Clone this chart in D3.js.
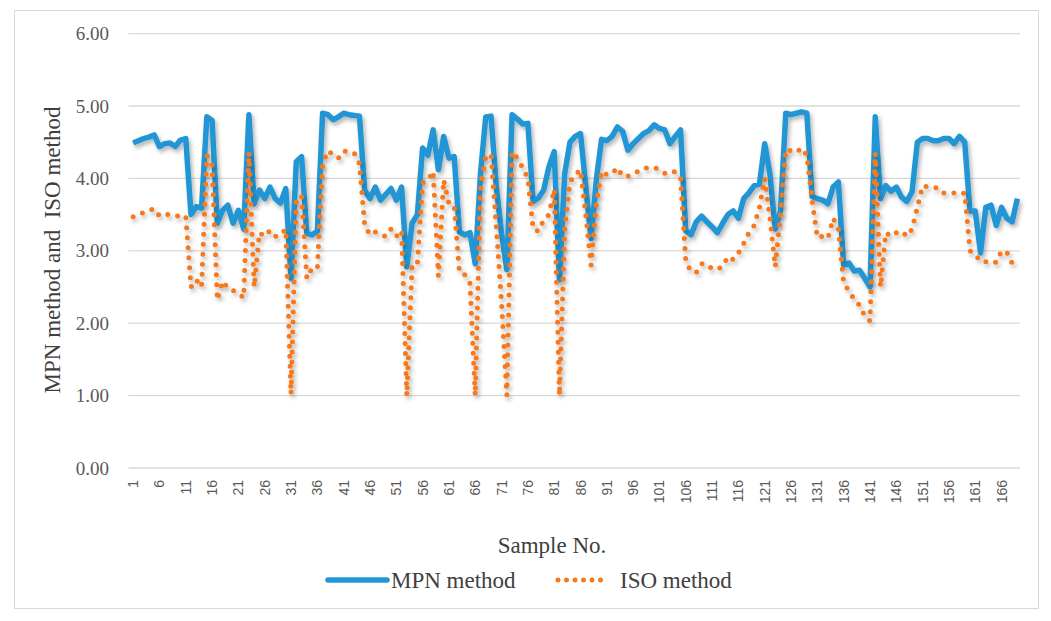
<!DOCTYPE html>
<html><head><meta charset="utf-8">
<script src="https://cdn.jsdelivr.net/npm/d3@7"></script>
<style>body{margin:0;background:#fff} svg{display:block}</style>
</head><body>
<svg id="c" width="1051" height="621"></svg>
<script>
const mpn = [4.49,4.52,4.55,4.57,4.60,4.44,4.48,4.49,4.44,4.53,
4.55,3.50,3.61,3.59,4.85,4.80,3.38,3.56,3.63,3.38,
3.56,3.30,4.88,3.65,3.84,3.72,3.88,3.72,3.66,3.86,
2.62,4.23,4.30,3.24,3.22,3.27,4.90,4.88,4.81,4.85,
4.90,4.88,4.87,4.86,3.84,3.72,3.88,3.70,3.78,3.86,
3.70,3.88,2.78,3.38,3.50,4.42,4.32,4.67,4.12,4.58,
4.28,4.30,3.26,3.22,3.25,2.82,4.07,4.85,4.86,3.89,
3.24,2.74,4.88,4.82,4.75,4.76,3.68,3.73,3.84,4.16,
4.37,2.60,4.07,4.50,4.58,4.62,3.89,3.17,3.98,4.54,
4.52,4.58,4.71,4.65,4.39,4.48,4.55,4.62,4.66,4.74,
4.69,4.67,4.48,4.58,4.67,3.28,3.22,3.40,3.48,3.40,
3.33,3.25,3.38,3.50,3.55,3.45,3.72,3.80,3.90,3.92,
4.48,4.05,3.30,3.55,4.90,4.88,4.90,4.92,4.90,3.75,
3.72,3.70,3.65,3.88,3.95,2.80,2.83,2.72,2.73,2.62,
2.50,4.85,3.72,3.90,3.82,3.88,3.74,3.68,3.82,4.50,
4.55,4.55,4.52,4.52,4.55,4.55,4.48,4.58,4.50,3.55,
3.55,2.97,3.60,3.63,3.35,3.60,3.45,3.40,3.72];
const iso = [3.47,3.50,3.53,3.56,3.58,3.48,3.50,3.50,3.48,3.48,
3.48,2.50,2.60,2.50,4.32,4.18,2.32,2.58,2.48,2.45,
2.42,2.35,4.36,2.50,3.25,3.20,3.28,3.20,3.22,3.30,
1.02,3.70,3.76,2.62,2.76,2.76,4.20,4.38,4.33,4.28,
4.38,4.36,4.35,4.20,3.35,3.22,3.26,3.22,3.20,3.30,
3.20,3.28,1.00,2.80,2.82,3.94,3.97,4.10,2.65,3.98,
3.65,3.62,2.70,2.67,2.55,1.00,3.90,4.30,4.33,3.33,
2.28,1.00,4.37,4.28,4.15,4.00,3.30,3.27,3.42,3.50,
3.85,1.00,3.30,3.95,4.05,4.12,3.50,2.80,3.65,4.10,
4.05,4.07,4.15,4.03,4.03,4.07,4.10,4.14,4.15,4.15,
4.12,4.07,4.10,4.09,4.02,2.85,2.72,2.70,2.82,2.82,
2.75,2.75,2.78,2.92,2.88,2.97,3.10,3.25,3.35,3.60,
4.00,3.45,2.78,3.50,4.40,4.38,4.36,4.42,4.32,3.70,
3.18,3.20,3.17,3.45,3.30,2.55,2.45,2.33,2.25,2.10,
2.03,4.35,2.50,3.25,3.20,3.25,3.27,3.20,3.30,3.60,
3.90,3.88,3.87,3.87,3.80,3.80,3.80,3.78,3.80,3.00,
2.95,2.85,2.85,2.86,2.84,3.00,2.98,2.83,2.78];
const samples = d3.range(1, mpn.length + 1);
const yTicks = [0, 1, 2, 3, 4, 5, 6];
const xTickLabels = samples.filter(d => (d - 1) % 5 === 0);
const seriesNames = ["MPN method", "ISO method"];
const colors = ["#2396d4", "#f7791f"];

const svg = d3.select("#c");
const defs = svg.append("defs");
const f = defs.append("filter").attr("id", "sh").attr("x", "-5%").attr("y", "-10%").attr("width", "110%").attr("height", "130%");
f.append("feDropShadow").attr("dx", 2).attr("dy", 3).attr("stdDeviation", 2).attr("flood-color", "#000").attr("flood-opacity", 0.3);

svg.append("rect").attr("x", 14.5).attr("y", 10.5).attr("width", 1024).attr("height", 598)
  .attr("fill", "#fff").attr("stroke", "#d9d9d9");

const pLeft = 130.5, pRight = 1020, pTop = 33.6, pBottom = 468;
const x = d3.scaleBand().domain(samples).range([pLeft, pRight]);
const cx = d => x(d) + x.bandwidth() / 2;
const y = d3.scaleLinear().domain([0, 6]).range([pBottom, pTop]);

// gridlines
svg.append("g").selectAll("line").data(yTicks).join("line")
  .attr("x1", pLeft - 2).attr("x2", pRight)
  .attr("y1", d => y(d)).attr("y2", d => y(d))
  .attr("stroke", "#d9d9d9").attr("stroke-width", 1.3);

// y axis labels
const yAxis = d3.axisLeft(y).tickValues(yTicks).tickFormat(d3.format(".2f")).tickSize(0).tickPadding(0);
const ga = svg.append("g").attr("transform", `translate(109,0)`).call(yAxis);
ga.select(".domain").remove();
ga.selectAll("text").attr("font-family", "Liberation Serif").attr("font-size", 19).attr("fill", "#595959");

// x axis labels
const xAxis = d3.axisBottom(x).tickValues(xTickLabels).tickSize(0).tickPadding(0);
const gx = svg.append("g").attr("transform", `translate(0,${pBottom})`).call(xAxis);
gx.select(".domain").remove();
gx.selectAll("text")
  .attr("font-family", "Liberation Sans").attr("font-size", 14).attr("fill", "#595959")
  .attr("text-anchor", "end").attr("dy", null).attr("y", 0)
  .attr("transform", "translate(5,12) rotate(-90)");

// lines
const line = d3.line().x((d, i) => cx(samples[i])).y(d => y(d));
svg.append("path").datum(mpn).attr("d", line)
  .attr("fill", "none").attr("stroke", colors[0]).attr("stroke-width", 5.5)
  .attr("stroke-linejoin", "round").attr("filter", "url(#sh)");
svg.append("path").datum(iso).attr("d", line)
  .attr("fill", "none").attr("stroke", colors[1]).attr("stroke-width", 5)
  .attr("stroke-linecap", "round").attr("stroke-dasharray", "0,10")
  .attr("filter", "url(#sh)");

// titles
svg.append("text").attr("transform", "translate(60,250) rotate(-90)")
  .attr("text-anchor", "middle").attr("font-family", "Liberation Serif").attr("font-size", 23)
  .attr("fill", "#404040").style("white-space", "pre")
  .text("MPN method and  ISO method");
svg.append("text").attr("x", 552).attr("y", 553)
  .attr("text-anchor", "middle").attr("font-family", "Liberation Serif").attr("font-size", 23)
  .attr("fill", "#404040").text("Sample No.");

// legend
const lg = svg.append("g");
lg.append("line").attr("x1", 328).attr("x2", 387).attr("y1", 580).attr("y2", 580)
  .attr("stroke", colors[0]).attr("stroke-width", 5.5).attr("stroke-linecap", "round");
lg.append("text").attr("x", 391).attr("y", 588).attr("font-family", "Liberation Serif").attr("font-size", 23)
  .attr("fill", "#404040").text(seriesNames[0]);
lg.append("line").attr("x1", 558).attr("x2", 606).attr("y1", 580).attr("y2", 580)
  .attr("stroke", colors[1]).attr("stroke-width", 5).attr("stroke-linecap", "round").attr("stroke-dasharray", "0,8.5");
lg.append("text").attr("x", 620).attr("y", 588).attr("font-family", "Liberation Serif").attr("font-size", 23)
  .attr("fill", "#404040").text(seriesNames[1]);
</script>
</body></html>
